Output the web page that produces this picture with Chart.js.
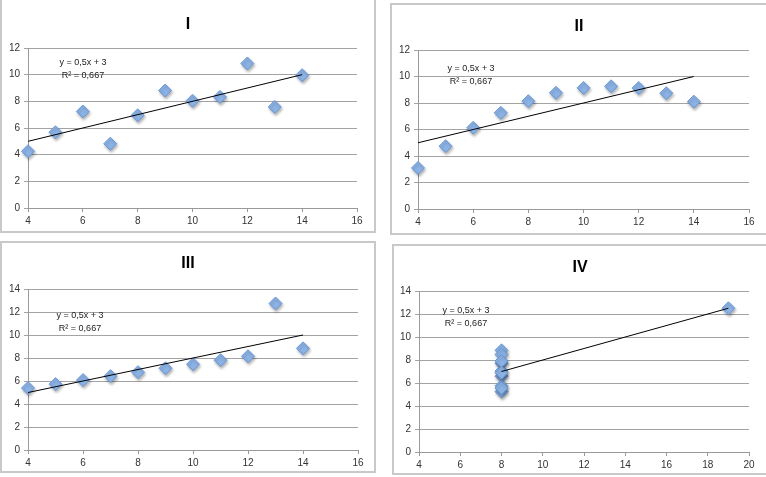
<!DOCTYPE html>
<html>
<head>
<meta charset="utf-8">
<script src="https://cdn.jsdelivr.net/npm/chart.js@4.4.0/dist/chart.umd.min.js"></script>
<style>
html, body { margin: 0; padding: 0; background: #fff; width: 766px; height: 477px; overflow: hidden; position: relative; }
canvas { position: absolute; }
.frame { position: absolute; box-sizing: border-box; border: 2px solid #c9c9c9; pointer-events: none; }
</style>
</head>
<body>
<script>
// Anscombe's quartet
var xABC = [10, 8, 13, 9, 11, 14, 6, 4, 12, 7, 5]
var yI = [8.04, 6.95, 7.58, 8.81, 8.33, 9.96, 7.24, 4.26, 10.84, 4.82, 5.68]
var yII = [9.14, 8.14, 8.74, 8.77, 9.26, 8.10, 6.13, 3.10, 9.13, 7.26, 4.74]
var yIII = [7.46, 6.77, 12.74, 7.11, 7.81, 8.84, 6.08, 5.39, 8.15, 6.42, 5.73]
var xIV = [8, 8, 8, 8, 8, 8, 8, 19, 8, 8, 8]
var yIV = [6.58, 5.76, 7.71, 8.84, 8.47, 7.04, 5.25, 12.50, 5.56, 7.91, 6.89]

// trend line end points (y = 0,5x + 3)
var trendX = [4, 14]
var trendY = [5, 10]
var trendXIV = [8, 19]
var trendYIV = [7, 12.5]

// tick labels
var xTicks16 = [4, 6, 8, 10, 12, 14, 16]
var xTicks20 = [4, 6, 8, 10, 12, 14, 16, 18, 20]
var yTicks12 = [0, 2, 4, 6, 8, 10, 12]
var yTicks14 = [0, 2, 4, 6, 8, 10, 12, 14]

function points(xs, ys) {
    return xs.map(function (x, i) { return { x: x, y: ys[i] } })
}

var textPlugin = {
    id: 'panelText',
    afterDraw: function (chart, args, o) {
        var ctx = chart.ctx
        ctx.save()
        ctx.textAlign = 'center'
        ctx.textBaseline = 'middle'
        ctx.fillStyle = '#000'
        ctx.font = 'bold 16px "Liberation Sans"'
        ctx.fillText(o.title, o.titleX, o.titleY)
        ctx.fillStyle = '#222'
        ctx.font = '9px "Liberation Sans"'
        ctx.fillText('y = 0,5x + 3', o.eqX, o.eqY)
        ctx.fillText('R² = 0,667', o.eqX, o.eqY + 13)
        ctx.restore()
    }
}

var shadowPlugin = {
    id: 'markShadow',
    beforeDatasetDraw: function (chart, args) {
        var ctx = chart.ctx
        ctx.save()
        if (chart.data.datasets[args.index].label === 'data') {
            ctx.shadowColor = 'rgba(0,0,0,0.3)'
            ctx.shadowBlur = 3
            ctx.shadowOffsetX = 1
            ctx.shadowOffsetY = 2
        }
    },
    afterDatasetDraw: function (chart) {
        chart.ctx.restore()
    }
}

function makePanel(p) {
    var c = document.createElement('canvas')
    c.width = p.box.w
    c.height = p.box.h
    c.style.left = p.box.x + 'px'
    c.style.top = p.box.y + 'px'
    c.style.width = p.box.w + 'px'
    c.style.height = p.box.h + 'px'
    document.body.appendChild(c)

    var f = document.createElement('div')
    f.className = 'frame'
    f.style.left = p.box.x + 'px'
    f.style.top = p.box.y + 'px'
    f.style.width = p.box.w + 'px'
    f.style.height = p.box.h + 'px'
    document.body.appendChild(f)

    var yWidth = p.plot.l - p.box.x
    var xHeight = p.box.y + p.box.h - p.plot.b

    return new Chart(c, {
        type: 'scatter',
        data: {
            datasets: [{
                label: 'trend',
                data: points(p.tx, p.ty),
                showLine: true,
                borderColor: '#000',
                borderWidth: 1,
                pointRadius: 0,
                clip: false
            },
            {
                label: 'data',
                data: points(p.xs, p.ys),
                pointStyle: 'rectRot',
                pointRadius: 6.5,
                backgroundColor: '#8cb3e6',
                borderColor: '#6a98d4',
                borderWidth: 1,
                clip: false
            }]
        },
        options: {
            responsive: false,
            animation: false,
            events: [],
            layout: {
                padding: {
                    left: 0,
                    bottom: 0,
                    top: p.plot.t - p.box.y,
                    right: p.box.x + p.box.w - p.plot.r
                }
            },
            plugins: {
                legend: { display: false },
                tooltip: { enabled: false },
                panelText: {
                    title: p.title,
                    titleX: p.titlePos[0] - p.box.x,
                    titleY: p.titlePos[1] - p.box.y,
                    eqX: p.eqPos[0] - p.box.x,
                    eqY: p.eqPos[1] - p.box.y
                }
            },
            scales: {
                x: {
                    type: 'linear',
                    min: p.xTicks[0],
                    max: p.xTicks[p.xTicks.length - 1],
                    afterBuildTicks: function (s) { s.ticks = p.xTicks.map(function (v) { return { value: v } }) },
                    afterFit: function (s) { s.height = xHeight },
                    grid: { drawOnChartArea: false, tickLength: 4, color: '#999' },
                    border: { color: '#999' },
                    ticks: { padding: 3, color: '#333', font: { family: 'Liberation Sans', size: 10 } }
                },
                y: {
                    type: 'linear',
                    min: p.yTicks[0],
                    max: p.yTicks[p.yTicks.length - 1],
                    afterBuildTicks: function (s) { s.ticks = p.yTicks.map(function (v) { return { value: v } }) },
                    afterFit: function (s) { s.width = yWidth },
                    grid: { color: '#a3a3a3', tickLength: 4 },
                    border: { color: '#999' },
                    ticks: { padding: 4, color: '#333', font: { family: 'Liberation Sans', size: 10 } }
                }
            }
        },
        plugins: [textPlugin, shadowPlugin]
    })
}

makePanel({
    title: 'I', xs: xABC, ys: yI, tx: trendX, ty: trendY, xTicks: xTicks16, yTicks: yTicks12,
    box: { x: 0, y: -2, w: 376, h: 235 }, plot: { l: 28, r: 357, t: 48, b: 208 },
    titlePos: [188, 25], eqPos: [83, 63]
})
makePanel({
    title: 'II', xs: xABC, ys: yII, tx: trendX, ty: trendY, xTicks: xTicks16, yTicks: yTicks12,
    box: { x: 390, y: 3, w: 378, h: 232 }, plot: { l: 418, r: 749, t: 50, b: 209 },
    titlePos: [579, 27], eqPos: [471, 69]
})
makePanel({
    title: 'III', xs: xABC, ys: yIII, tx: trendX, ty: trendY, xTicks: xTicks16, yTicks: yTicks14,
    box: { x: 0, y: 241, w: 376, h: 232 }, plot: { l: 28, r: 358, t: 289, b: 450 },
    titlePos: [188, 264], eqPos: [80, 316]
})
makePanel({
    title: 'IV', xs: xIV, ys: yIV, tx: trendXIV, ty: trendYIV, xTicks: xTicks20, yTicks: yTicks14,
    box: { x: 392, y: 244, w: 378, h: 231 }, plot: { l: 419, r: 749, t: 291, b: 452 },
    titlePos: [580, 268], eqPos: [466, 311]
})
</script>
</body>
</html>
